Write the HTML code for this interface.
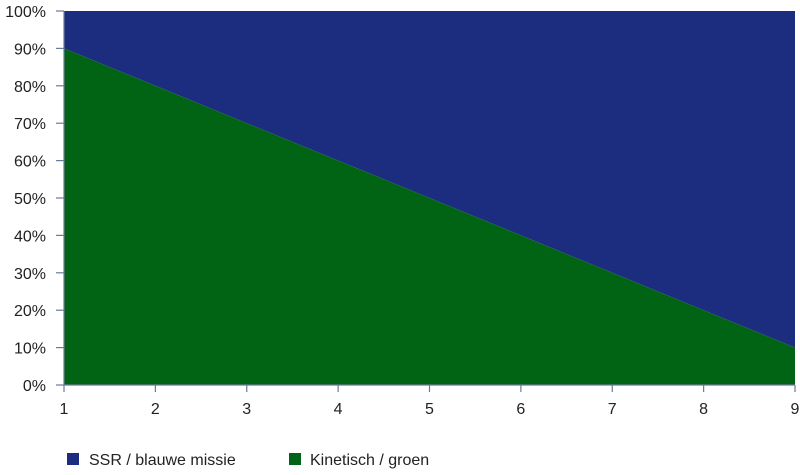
<!DOCTYPE html>
<html><head><meta charset="utf-8"><style>
body{margin:0;background:#fff;font-family:"Liberation Sans",sans-serif}
svg text{font-family:"Liberation Sans",sans-serif;font-size:16px;fill:#222}
</style></head><body>
<svg width="800" height="470">
<g id="plot"></g><g id="axes"></g>
<g>
<rect x="67" y="453" width="12" height="12" fill="#1c2d80"/>
<text x="89" y="465">SSR / blauwe missie</text>
<rect x="289" y="453" width="12" height="12" fill="#006414"/>
<text x="310" y="465">Kinetisch / groen</text>
</g>
</svg>
<script>
const categories=[1,2,3,4,5,6,7,8,9];
const greenValues=[90,80,70,60,50,40,30,20,10];
const blueValues=[10,20,30,40,50,60,70,80,90];
const yTicks=[0,10,20,30,40,50,60,70,80,90,100];
const X0=64,X1=795,Y0=385,Y1=11;
const xs=c=>X0+(c-1)/(categories.length-1)*(X1-X0);
const ys=v=>Y0-v/100*(Y0-Y1);
const NS="http://www.w3.org/2000/svg";
const plot=document.getElementById('plot'),axes=document.getElementById('axes');
function mk(tag,attrs,parent){const e=document.createElementNS(NS,tag);for(const k in attrs)e.setAttribute(k,attrs[k]);parent.appendChild(e);return e;}
let gp=categories.map((c,i)=>xs(c)+','+ys(greenValues[i]));
let bp=categories.map((c,i)=>xs(c)+','+ys(greenValues[i]+blueValues[i]));
const blue=mk('polygon',{points:bp.concat(gp.slice().reverse()).join(' '),fill:'#1c2d80'},plot);


const green=mk('polygon',{points:gp.concat([xs(categories[categories.length-1])+','+Y0,xs(categories[0])+','+Y0]).join(' '),fill:'#006414'},plot);


const ax=mk('line',{x1:X0,x2:X0,y1:Y1,y2:Y0,stroke:'#6b7a9a','stroke-width':1.2},axes);


const bx=mk('line',{x1:X0,x2:X1,y1:Y0,y2:Y0,stroke:'#6b7a9a','stroke-width':1.2},axes);


yTicks.forEach(t=>{
 const y=ys(t);
 const l=mk('line',{x1:X0-8,x2:X0,y1:y,y2:y,stroke:'#6b7a9a','stroke-width':1.2},axes);
 
 
 const tx=mk('text',{x:46,y:y+6,'text-anchor':'end'},axes);tx.textContent=t+'%';
 
 
});
categories.forEach(c=>{
 const x=xs(c);
 const l=mk('line',{x1:x,x2:x,y1:Y0,y2:Y0+7,stroke:'#6b7a9a','stroke-width':1.2},axes);
 
 
 const tx=mk('text',{x:x,y:Y0+29,'text-anchor':'middle'},axes);tx.textContent=c;
 
 
});
</script>
</body></html>
